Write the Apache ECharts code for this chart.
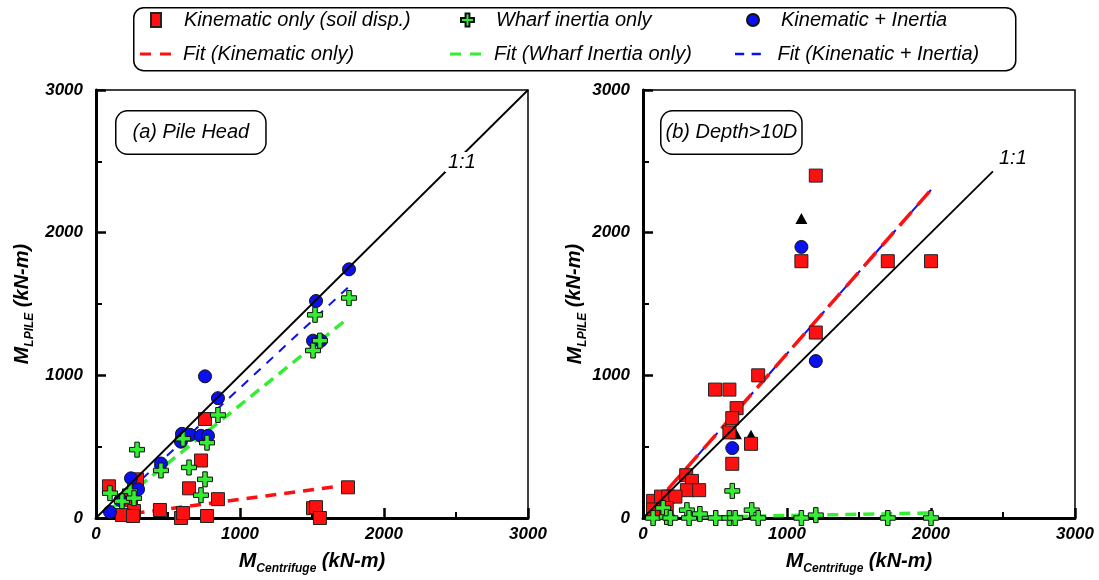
<!DOCTYPE html>
<html>
<head>
<meta charset="utf-8">
<script src="https://cdn.jsdelivr.net/npm/echarts@6/dist/echarts.min.js"></script>
<style>
html,body{margin:0;padding:0;background:#fff;}
#chart{width:1099px;height:580px;}
</style>
</head>
<body>
<div id="chart"></div>
<script>
// ---------- data ----------
const axisTicks = [0, 1000, 2000, 3000];

// Panel (a) Pile Head  [M_Centrifuge, M_LPILE]
const aKinematic = [[90,222],[285,271],[243,125],[264,49],[180,21],[257,14],[444,56],[590,0],[604,35],[771,14],[847,132],[646,208],[729,403],[757,694],[1750,215],[1507,69],[1528,76],[1555,0]];
const aInertia = [[97,174],[180,118],[236,188],[264,139],[285,479],[451,333],[604,556],[771,528],[847,722],[646,354],[757,271],[729,160],[1521,1424],[1507,1174],[1555,1243],[1757,1542]];
const aCombined = [[97,42],[170,125],[243,278],[292,201],[451,382],[597,590],[590,535],[653,583],[729,576],[778,576],[757,993],[847,840],[1757,1743],[1528,1521],[1507,1243],[1562,1243]];
const aFitKin = [[130,14],[1700,225]];
const aFitIner = [[100,60],[1750,1400]];
const aFitComb = [[60,30],[1760,1625]];
const aOneToOne = [[0,0],[3000,3000]];

// Panel (b) Depth>10D
const bKinematic = [[1200,2400],[1100,1800],[1700,1800],[2000,1800],[1200,1300],[800,1000],[500,900],[600,900],[650,770],[620,700],[600,600],[750,520],[620,380],[300,300],[340,260],[305,195],[390,195],[70,120],[125,150],[175,150],[225,150],[70,60],[165,70]];
const bInertia = [[140,70],[70,0],[165,7],[190,0],[305,55],[320,0],[395,28],[505,0],[600,0],[640,0],[620,190],[755,55],[800,0],[1100,0],[1200,20],[1700,0],[2000,0]];
const bCombined = [[1100,1900],[1200,1100],[620,490]];
const bOther = [[1100,2100],[750,580],[645,590]];
const bFitKin = [[50,60],[2000,2300]];
const bFitIner = [[30,0],[2000,35]];
const bFitComb = [[50,60],[2000,2300]];
const bOneToOne = [[0,0],[2430,2430]];

// ---------- styles ----------
const FONT = 'Liberation Sans, Arial, Helvetica, sans-serif';
const RED = '#ff1010', GREEN = '#33ee33', BLUE = '#0a10f0';
const PLUS = 'path://M3.5,0H6.5V3.5H10V6.5H6.5V10H3.5V6.5H0V3.5H3.5Z';
const DASH2 = 'path://M0,0H11V3H0Z M20,0H31V3H20Z';

const chart = echarts.init(document.getElementById('chart'), null, {renderer:'canvas'});

function nameRich(){
  const base = {fontFamily:FONT, fontWeight:'bold', fontStyle:'italic', color:'#000'};
  return {
    m: Object.assign({fontSize:21}, base),
    s: Object.assign({fontSize:12, padding:[15,0,0,0]}, base),
    u: Object.assign({fontSize:20}, base)
  };
}
const tickFmt = v => String(v);
function xAx(gi){
  return {
    gridIndex: gi, type:'value', min:axisTicks[0], max:axisTicks[axisTicks.length-1], interval:1000,
    name:'{m|M}{s|Centrifuge}{u| (kN-m)}', nameLocation:'middle', nameGap:30,
    nameTextStyle:{rich:nameRich()},
    axisLine:{show:true, onZero:false, lineStyle:{color:'#000', width:3}},
    axisTick:{show:true, inside:true, length:10, lineStyle:{color:'#000', width:2.5}},
    minorTick:{show:true, splitNumber:2, length:6, lineStyle:{color:'#000', width:2}},
    splitLine:{show:false},
    axisLabel:{margin:8, fontSize:17, fontWeight:'bold', fontStyle:'italic', fontFamily:FONT, color:'#000', formatter:tickFmt}
  };
}
function yAx(gi, gap){
  return {
    gridIndex: gi, type:'value', min:axisTicks[0], max:axisTicks[axisTicks.length-1], interval:1000,
    name:'{m|M}{s|LPILE}{u| (kN-m)}', nameLocation:'middle', nameGap:gap, nameRotate:90,
    nameTextStyle:{rich:nameRich()},
    axisLine:{show:true, onZero:false, lineStyle:{color:'#000', width:3}},
    axisTick:{show:true, inside:true, length:10, lineStyle:{color:'#000', width:2.5}},
    minorTick:{show:true, splitNumber:2, length:6, lineStyle:{color:'#000', width:2}},
    splitLine:{show:false},
    axisLabel:{margin:13, fontSize:17, fontWeight:'bold', fontStyle:'italic', fontFamily:FONT, color:'#000', formatter:tickFmt}
  };
}
function sq(name, data, gi){
  return {name, type:'scatter', xAxisIndex:gi, yAxisIndex:gi, data, symbol:'rect', symbolSize:13, clip:false, z:3,
    itemStyle:{color:RED, borderColor:'#222', borderWidth:1, opacity:1}};
}
function cross(name, data, gi){
  return {name, type:'scatter', xAxisIndex:gi, yAxisIndex:gi, data, symbol:PLUS, symbolSize:15, clip:false, z:5,
    itemStyle:{color:GREEN, borderColor:'#111', borderWidth:1, opacity:1}};
}
function circ(name, data, gi){
  return {name, type:'scatter', xAxisIndex:gi, yAxisIndex:gi, data, symbol:'circle', symbolSize:13, clip:false, z:4,
    itemStyle:{color:BLUE, borderColor:'#111', borderWidth:1, opacity:1}};
}
function fit(name, data, gi, color, width, dash, z){
  return {name, type:'line', xAxisIndex:gi, yAxisIndex:gi, data, symbol:'none', z:z||2,
    itemStyle:{color}, lineStyle:{color, width, type:dash}, silent:true};
}
function diag(data, gi){
  return {name:'1:1', type:'line', xAxisIndex:gi, yAxisIndex:gi, data, symbol:'none', z:6,
    lineStyle:{color:'#000', width:1.8}, silent:true};
}

const legTxt = {fontFamily:FONT, fontStyle:'italic', fontSize:20, color:'#000'};
function leg(name, left, top, extra, padLeft){
  return Object.assign({
    data:[name], left, top, padding:0, selectedMode:false,
    textStyle:Object.assign({padding:[0,0,0,padLeft]}, legTxt)
  }, extra);
}

const option = {
  backgroundColor:'#fff',
  animation:false,
  grid:[
    {left:96, top:90, width:432, height:432, show:true, borderColor:'#000', borderWidth:1.5, backgroundColor:'transparent'},
    {left:643, top:90, width:432, height:432, show:true, borderColor:'#000', borderWidth:1.5, backgroundColor:'transparent'}
  ],
  xAxis:[xAx(0), xAx(1)],
  yAxis:[yAx(0, 60), yAx(1, 52)],
  legend:[
    leg('Kinematic only (soil disp.)', 150, 10, {icon:'rect', itemWidth:10, itemHeight:14}, 18),
    leg('Wharf inertia only', 460, 10, {icon:PLUS, itemWidth:13, itemHeight:13}, 17),
    leg('Kinematic + Inertia', 746, 10, {icon:'circle', itemWidth:12, itemHeight:15}, 17),
    leg('Fit (Kinematic only)', 140, 44, {icon:DASH2, itemWidth:31, itemHeight:3.5, itemStyle:{borderWidth:0}}, 7),
    leg('Fit (Wharf Inertia only)', 450, 44, {icon:DASH2, itemWidth:31, itemHeight:3.5, itemStyle:{borderWidth:0}}, 8),
    leg('Fit (Kinenatic + Inertia)', 735, 44, {icon:DASH2, itemWidth:31, itemHeight:2.5, itemStyle:{borderWidth:0}}, 9)
  ],
  graphic:[
    {type:'rect', left:133, top:7, z:0, shape:{width:882, height:63, r:10}, style:{fill:'transparent', stroke:'#000', lineWidth:1.5}},
    {type:'text', left:115, top:110, z:100, style:{text:'(a) Pile Head', fontFamily:FONT, fontStyle:'italic', fontSize:20, fill:'#000',
      backgroundColor:'#fff', borderColor:'#000', borderWidth:1.5, borderRadius:11, padding:[11,16]}},
    {type:'text', left:660, top:110, z:100, style:{text:'(b) Depth>10D', fontFamily:FONT, fontStyle:'italic', fontSize:20, fill:'#000',
      backgroundColor:'#fff', borderColor:'#000', borderWidth:1.5, borderRadius:11, padding:[11,4]}},
    {type:'text', left:445, top:152, z:100, style:{text:'1:1', fontFamily:FONT, fontStyle:'italic', fontSize:20, fill:'#000',
      backgroundColor:'#fff', padding:[0,3]}},
    {type:'text', left:996, top:148, z:100, style:{text:'1:1', fontFamily:FONT, fontStyle:'italic', fontSize:20, fill:'#000',
      backgroundColor:'#fff', padding:[0,3]}}
  ],
  series:[
    // panel (a)
    fit('Fit (Kinematic only)', aFitKin, 0, RED, 3.5, [11,8]),
    fit('Fit (Wharf Inertia only)', aFitIner, 0, GREEN, 3.5, [11,7]),
    fit('Fit (Kinenatic + Inertia)', aFitComb, 0, BLUE, 2, [9,8]),
    sq('Kinematic only (soil disp.)', aKinematic, 0),
    circ('Kinematic + Inertia', aCombined, 0),
    cross('Wharf inertia only', aInertia, 0),
    diag(aOneToOne, 0),
    // panel (b)
    {name:'Other', type:'scatter', xAxisIndex:1, yAxisIndex:1, data:bOther, symbol:'triangle', symbolSize:[12,11], z:2.5, clip:false,
      itemStyle:{color:'#000', opacity:1}},
    fit('Fit (Kinenatic + Inertia)', bFitComb, 1, BLUE, 2, [12,6], 2),
    fit('Fit (Kinematic only)', bFitKin, 1, RED, 3.5, [18,9], 2.2),
    fit('Fit (Wharf Inertia only)', bFitIner, 1, GREEN, 3.5, [11,7], 2),
    sq('Kinematic only (soil disp.)', bKinematic, 1),
    circ('Kinematic + Inertia', bCombined, 1),
    cross('Wharf inertia only', bInertia, 1),
    diag(bOneToOne, 1)
  ]
};
chart.setOption(option);
</script>
</body>
</html>
